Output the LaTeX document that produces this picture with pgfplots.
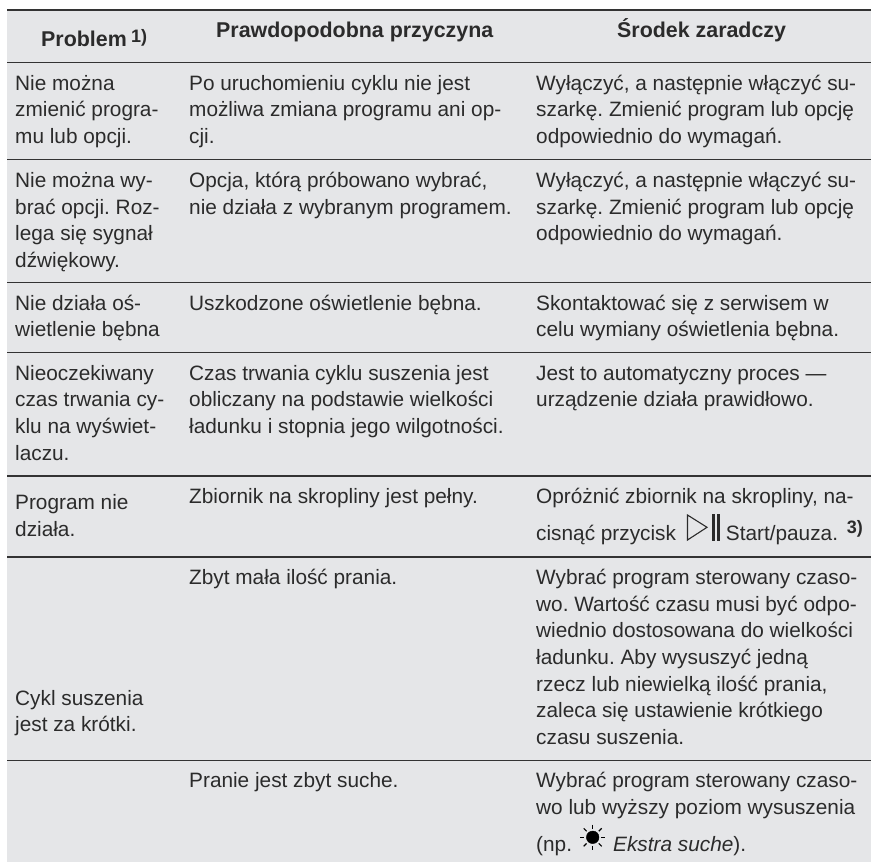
\documentclass[border=0pt]{standalone}
\usepackage{fontspec}
\setmainfont{Liberation Sans}
\usepackage{pgfplots}
\pgfplotsset{compat=1.18}
\frenchspacing
\definecolor{bg}{HTML}{E5E6E8}
\definecolor{tx}{HTML}{2B2B2B}
\definecolor{rl}{HTML}{333333}
\newcommand{\T}[3]{\node[anchor=base west,inner sep=0pt,text=tx,font=\fontsize{20.8}{25}\selectfont\frenchspacing] at (axis cs:#1,#2) {#3};}
\newcommand{\B}[3]{\node[anchor=base west,inner sep=0pt,text=tx,font=\fontsize{21.4}{25}\selectfont\bfseries] at (axis cs:#1,#2) {#3};}
\begin{document}
\begin{tikzpicture}
\begin{axis}[scale only axis,width=871pt,height=862pt,xmin=0,xmax=871,ymin=0,ymax=862,y dir=reverse,hide axis,clip=true]
\addplot[fill=white,draw=none] coordinates {(0,0)(871,0)(871,862)(0,862)} --cycle;
\addplot[fill=bg,draw=none] coordinates {(7,10)(871,10)(871,862)(7,862)} --cycle;
\addplot[rl,line width=2.6pt] coordinates {(7,10)(871,10)};
\addplot[rl,line width=1.2pt] coordinates {(7,62.3)(871,62.3)};
\addplot[rl,line width=1.2pt] coordinates {(7,159.3)(871,159.3)};
\addplot[rl,line width=1.2pt] coordinates {(7,282.7)(871,282.7)};
\addplot[rl,line width=1.2pt] coordinates {(7,352.5)(871,352.5)};
\addplot[rl,line width=1.2pt] coordinates {(7,476)(871,476)};
\addplot[rl,line width=1.2pt] coordinates {(7,557)(871,557)};
\addplot[rl,line width=1.2pt] coordinates {(7,760.5)(871,760.5)};
% play/pause icon
\addplot[tx,line width=1.1pt] coordinates {(687.5,515)(707,527.3)(687.5,540)} --cycle;
\addplot[fill=tx,draw=none] coordinates {(712,514)(715,514)(715,541)(712,541)} --cycle;
\addplot[fill=tx,draw=none] coordinates {(717,514)(720,514)(720,541)(717,541)} --cycle;
% sun icon
\addplot[only marks,mark=*,mark size=6.3pt,mark options={fill=black,draw=none}] coordinates {(592.7,837.3)};
\addplot[black,line width=1.1pt] coordinates {(580,837.3)(584,837.3)};
\addplot[black,line width=1.1pt] coordinates {(601.4,837.3)(605.4,837.3)};
\addplot[black,line width=1.1pt] coordinates {(592.7,824.6)(592.7,828.6)};
\addplot[black,line width=1.1pt] coordinates {(592.7,846)(592.7,850)};
\addplot[black,line width=1.1pt] coordinates {(583.7,828.3)(586.6,831.2)};
\addplot[black,line width=1.1pt] coordinates {(598.8,831.2)(601.7,828.3)};
\addplot[black,line width=1.1pt] coordinates {(583.7,846.3)(586.6,843.4)};
\addplot[black,line width=1.1pt] coordinates {(598.8,843.4)(601.7,846.3)};
% header
\B{41}{46.7}{Problem}
\node[anchor=base west,inner sep=0pt,text=tx,font=\fontsize{18}{20}\selectfont\bfseries] at (axis cs:131,42) {1)};
\B{216}{37}{Prawdopodobna przyczyna}
\B{617}{37}{Środek zaradczy}
% column 1
\T{15}{90}{Nie można}
\T{15}{116.7}{zmienić progra-}
\T{15}{143.3}{mu lub opcji.}
\T{15}{187.3}{Nie można wy-}
\T{15}{214}{brać opcji. Roz-}
\T{15}{240.7}{lega się sygnał}
\T{15}{267}{dźwiękowy.}
\T{15}{310}{Nie działa oś-}
\T{15}{336.7}{wietlenie bębna}
\T{15}{380}{Nieoczekiwany}
\T{15}{406.7}{czas trwania cy-}
\T{15}{433.3}{klu na wyświet-}
\T{15}{460}{laczu.}
\T{15}{509.3}{Program nie}
\T{15}{536.3}{działa.}
\T{15}{705}{Cykl suszenia}
\T{15}{731.7}{jest za krótki.}
% column 2
\T{189}{90}{Po uruchomieniu cyklu nie jest}
\T{189}{116.7}{możliwa zmiana programu ani op-}
\T{189}{143.3}{cji.}
\T{189}{187.3}{Opcja, którą próbowano wybrać,}
\T{189}{214}{nie działa z wybranym programem.}
\T{189}{310}{Uszkodzone oświetlenie bębna.}
\T{189}{380}{Czas trwania cyklu suszenia jest}
\T{189}{406.7}{obliczany na podstawie wielkości}
\T{189}{433.3}{ładunku i stopnia jego wilgotności.}
\T{189}{503.3}{Zbiornik na skropliny jest pełny.}
\T{189}{584.3}{Zbyt mała ilość prania.}
\T{189}{787.3}{Pranie jest zbyt suche.}
% column 3
\T{536}{90}{Wyłączyć, a następnie włączyć su-}
\T{536}{116.7}{szarkę. Zmienić program lub opcję}
\T{536}{143.3}{odpowiednio do wymagań.}
\T{536}{187.3}{Wyłączyć, a następnie włączyć su-}
\T{536}{214}{szarkę. Zmienić program lub opcję}
\T{536}{240.7}{odpowiednio do wymagań.}
\T{536}{310}{Skontaktować się z serwisem w}
\T{536}{336.7}{celu wymiany oświetlenia bębna.}
\T{536}{380}{Jest to automatyczny proces —}
\T{536}{406.7}{urządzenie działa prawidłowo.}
\T{536}{503.3}{Opróżnić zbiornik na skropliny, na-}
\T{536}{540.7}{cisnąć przycisk}
\T{725.7}{540.7}{Start/pauza.}
\node[anchor=base west,inner sep=0pt,text=tx,font=\fontsize{18}{20}\selectfont\bfseries] at (axis cs:846.7,533) {3)};
\T{536}{584.3}{Wybrać program sterowany czaso-}
\T{536}{611}{wo. Wartość czasu musi być odpo-}
\T{536}{637.6}{wiednio dostosowana do wielkości}
\T{536}{664.3}{ładunku. Aby wysuszyć jedną}
\T{536}{691}{rzecz lub niewielką ilość prania,}
\T{536}{717.6}{zaleca się ustawienie krótkiego}
\T{536}{744.3}{czasu suszenia.}
\T{536}{787.3}{Wybrać program sterowany czaso-}
\T{536}{814}{wo lub wyższy poziom wysuszenia}
\T{536}{851.7}{(np.}
\T{613}{851.7}{\itshape Ekstra suche\upshape ).}
\end{axis}
\end{tikzpicture}
\end{document}
